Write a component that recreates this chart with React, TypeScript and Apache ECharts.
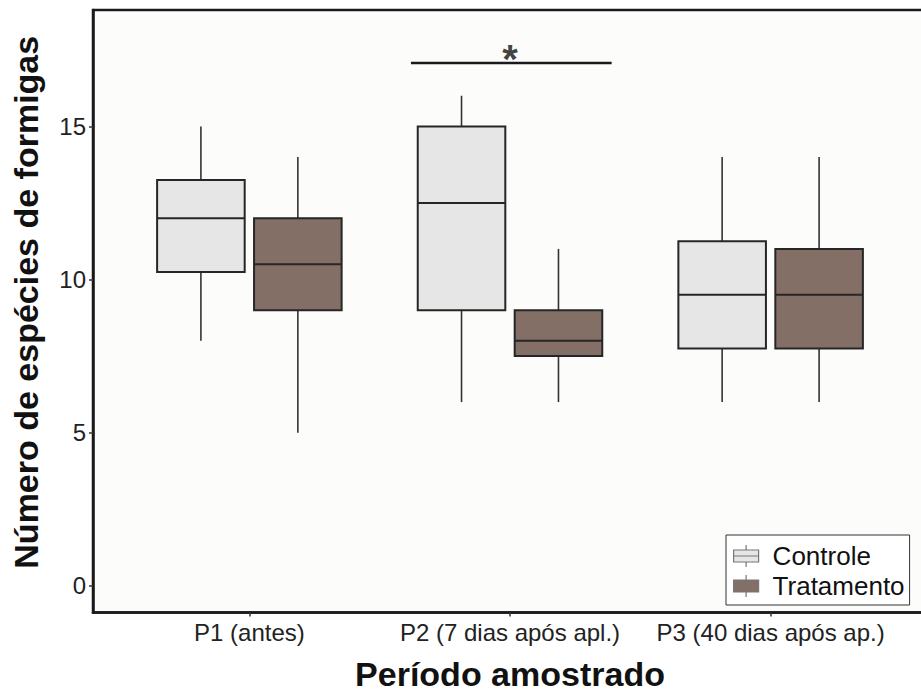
import React, { useEffect, useRef } from "react";
import * as echarts from "echarts";

const periods = ["P1 (antes)", "P2 (7 dias após apl.)", "P3 (40 dias após ap.)"];
const seriesNames = ["Controle", "Tratamento"];
// [min, q1, median, q3, max]
const controle = [
  [8, 10.25, 12, 13.25, 15],
  [6, 9, 12.5, 15, 16],
  [6, 7.75, 9.5, 11.25, 14],
];
const tratamento = [
  [5, 9, 10.5, 12, 14],
  [6, 7.5, 8, 9, 11],
  [6, 7.75, 9.5, 11, 14],
];
const yTicks = [0, 5, 10, 15];
const sigBar = [
  [1.62, 17.07],
  [2.39, 17.07],
];
const sigMark = [[2.0, 17.07]];

const FONT = "Liberation Sans, Arial, Helvetica, sans-serif";

function makeRender(offset: number, halfWidth: number) {
  return (params: any, api: any) => {
    const x = api.value(0);
    const mn = api.value(1);
    const q1 = api.value(2);
    const md = api.value(3);
    const q3 = api.value(4);
    const mx = api.value(5);
    const c = x + offset;
    const tl = api.coord([c - halfWidth, q3]);
    const br = api.coord([c + halfWidth, q1]);
    const cx = api.coord([c, mx])[0];
    const yMax = api.coord([c, mx])[1];
    const yMin = api.coord([c, mn])[1];
    const yMed = api.coord([c, md])[1];
    const style = api.style();
    return {
      type: "group",
      children: [
        {
          type: "line",
          shape: { x1: cx, y1: yMax, x2: cx, y2: tl[1] },
          style: { stroke: "#333", lineWidth: 1.6 },
        },
        {
          type: "line",
          shape: { x1: cx, y1: br[1], x2: cx, y2: yMin },
          style: { stroke: "#333", lineWidth: 1.6 },
        },
        {
          type: "rect",
          shape: { x: tl[0], y: tl[1], width: br[0] - tl[0], height: br[1] - tl[1] },
          style: { fill: style.fill, stroke: "#262626", lineWidth: 2 },
        },
        {
          type: "line",
          shape: { x1: tl[0], y1: yMed, x2: br[0], y2: yMed },
          style: { stroke: "#262626", lineWidth: 2 },
        },
      ],
    };
  };
}

const legendIcon =
  "path://M1,5 L26,5 L26,17 L1,17 Z M1,11 L26,11 M13.5,0 L13.5,5 M13.5,17 L13.5,22";

export default function App() {
  const ref = useRef<HTMLDivElement>(null);
  useEffect(() => {
    document.body.style.margin = "0";
    const chart = echarts.init(ref.current!, null, { renderer: "svg" });
    const option: any = {
      animation: false,
      backgroundColor: "#ffffff",
      textStyle: { fontFamily: FONT },
      grid: {
        left: 93,
        top: 10,
        width: 834,
        bottom: 81.5,
        containLabel: false,
        outerBoundsMode: "none",
        show: true,
        backgroundColor: "#fcfcfa",
        borderColor: "#1a1a1a",
        borderWidth: 2.5,
      },
      xAxis: {
        type: "value",
        min: 0.4,
        max: 3.6,
        splitLine: { show: false },
        axisLine: { show: true, onZero: false, lineStyle: { color: "#1a1a1a", width: 2.5 } },
        axisTick: { show: true, customValues: [1, 2, 3], length: 4, lineStyle: { color: "#333", width: 1.5 } },
        axisLabel: {
          customValues: [1, 2, 3],
          formatter: (v: number) => periods[Math.round(v) - 1] ?? "",
          fontSize: 24,
          color: "#222",
          margin: 8,
          fontFamily: FONT,
        },
        name: "Período amostrado",
        nameLocation: "middle",
        nameGap: 44,
        nameTextStyle: { fontSize: 34, fontWeight: "bold", color: "#111", fontFamily: FONT },
      },
      yAxis: {
        type: "value",
        min: -0.87,
        max: 18.8,
        splitLine: { show: false },
        axisLine: { show: true, onZero: false, lineStyle: { color: "#1a1a1a", width: 2.5 } },
        axisTick: { show: true, customValues: yTicks, length: 4, lineStyle: { color: "#333", width: 1.5 } },
        axisLabel: {
          customValues: yTicks,
          fontSize: 24,
          color: "#222",
          margin: 7,
          fontFamily: FONT,
        },
        name: "Número de espécies de formigas",
        nameLocation: "middle",
        nameGap: 50,
        nameTextStyle: {
          fontSize: 34,
          fontWeight: "bold",
          color: "#111",
          fontFamily: FONT,
          padding: [0, 0, 0, 18],
        },
      },
      legend: {
        left: 726,
        top: 535,
        orient: "vertical",
        backgroundColor: "#ffffff",
        borderColor: "#333",
        borderWidth: 1,
        borderRadius: 0,
        padding: [8, 5, 6, 7],
        itemWidth: 27,
        itemHeight: 22,
        itemGap: 4,
        icon: legendIcon,
        itemStyle: { borderColor: "#777", borderWidth: 1.2 },
        textStyle: { fontSize: 26, lineHeight: 26, color: "#111", fontFamily: FONT, padding: [0, 0, 0, 8] },
        data: seriesNames,
      },
      series: [
        {
          name: seriesNames[0],
          type: "custom",
          renderItem: makeRender(-0.186, 0.168),
          itemStyle: { color: "#e6e6e6" },
          encode: { x: 0, y: [1, 2, 3, 4, 5] },
          data: controle.map((d, i) => [i + 1, ...d]),
          z: 3,
        },
        {
          name: seriesNames[1],
          type: "custom",
          renderItem: makeRender(0.186, 0.168),
          itemStyle: { color: "#836f66" },
          encode: { x: 0, y: [1, 2, 3, 4, 5] },
          data: tratamento.map((d, i) => [i + 1, ...d]),
          z: 3,
        },
        {
          name: "sig",
          type: "line",
          data: sigBar,
          symbol: "none",
          lineStyle: { color: "#1a1a1a", width: 2.5 },
          silent: true,
          z: 4,
        },
        {
          name: "sigMark",
          type: "scatter",
          data: sigMark,
          symbolSize: 0,
          silent: true,
          label: {
            show: true,
            position: "inside",
            offset: [0, -4],
            formatter: "*",
            fontSize: 40,
            fontWeight: "bold",
            color: "#111",
            fontFamily: FONT,
          },
          z: 5,
        },
      ],
    };
    chart.setOption(option);
    return () => chart.dispose();
  }, []);
  return <div ref={ref} style={{ width: 921, height: 694 }} />;
}
